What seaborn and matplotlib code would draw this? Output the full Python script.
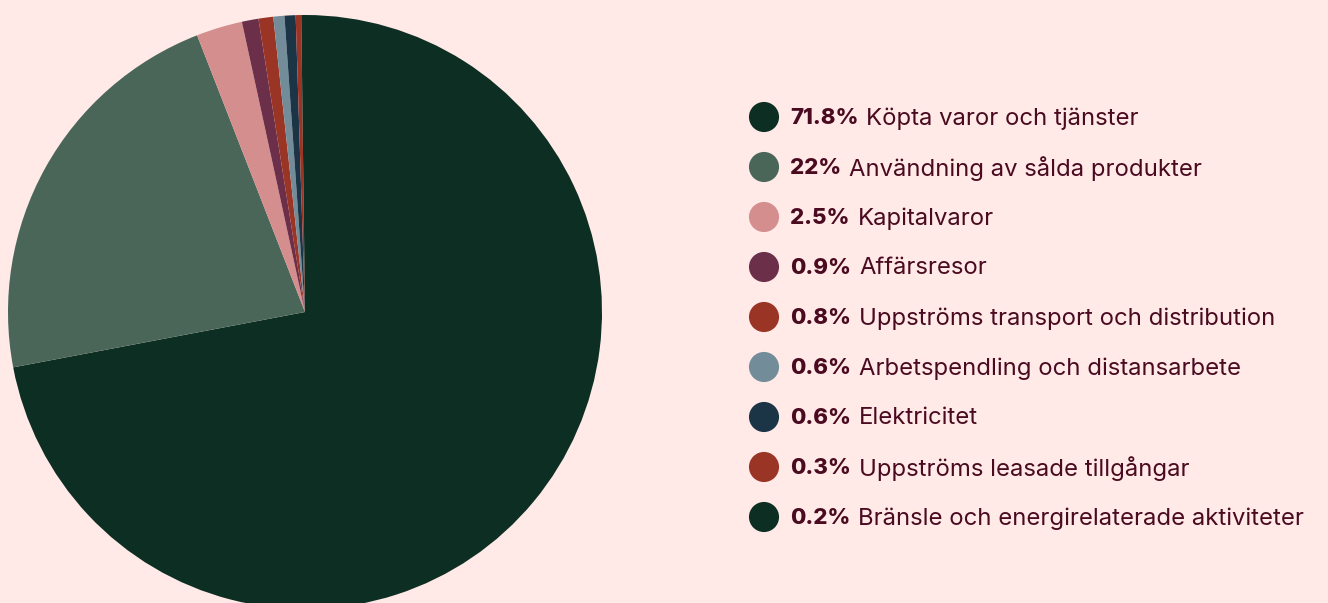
import matplotlib
matplotlib.use("Agg")
import matplotlib.pyplot as plt
import seaborn as sns

# data
categories = ["Köpta varor och tjänster", "Användning av sålda produkter", "Kapitalvaror",
              "Affärsresor", "Uppströms transport och distribution",
              "Arbetspendling och distansarbete", "Elektricitet",
              "Uppströms leasade tillgångar", "Bränsle och energirelaterade aktiviteter"]
shares = [71.8, 22, 2.5, 0.9, 0.8, 0.6, 0.6, 0.3, 0.2]
share_labels = ["71.8%", "22%", "2.5%", "0.9%", "0.8%", "0.6%", "0.6%", "0.3%", "0.2%"]
colours = ["#0d2e22", "#4a6659", "#d48e8e", "#6b2f4a", "#9a3526",
           "#738c9a", "#1b3547", "#9a3526", "#0d2e22"]

bg = "#ffeae8"
txt = "#4a0a20"

sns.set_theme(style="white")
plt.rcParams['font.family'] = ['Inter', 'DejaVu Sans']

W, H = 1328, 603
fig = plt.figure(figsize=(W / 100, H / 100), dpi=100, facecolor=bg)

# pie: centre (305, 312), radius 297 px
cx, cy, r = 305, 312, 297
ax = fig.add_axes([(cx - r) / W, (H - cy - r) / H, 2 * r / W, 2 * r / H])
ax.pie(shares, colors=colours, startangle=90, counterclock=False,
       wedgeprops=dict(linewidth=0))
ax.set_aspect("equal")
ax.set_xlim(-1, 1)
ax.set_ylim(-1, 1)
ax.axis("off")

# legend drawn on an overlay axes in pixel coords
lax = fig.add_axes([0, 0, 1, 1])
lax.set_xlim(0, W)
lax.set_ylim(H, 0)
lax.axis("off")
lax.patch.set_alpha(0)

ys = [117 + 50 * i for i in range(len(categories))]
lax.scatter([764] * len(ys), ys, s=470, c=colours, linewidths=0, zorder=3)

fig.canvas.draw()
renderer = fig.canvas.get_renderer()
for y, pct, name in zip(ys, share_labels, categories):
    t = lax.text(790, y + 1.5, pct, fontsize=16, fontweight="heavy", color=txt,
                 va="center", ha="left")
    bb = t.get_window_extent(renderer=renderer)
    lax.text(790 + bb.width + 8, y + 1.5, name, fontsize=17.2, color=txt,
             va="center", ha="left")

fig.savefig("out.png", dpi=100, facecolor=bg)
